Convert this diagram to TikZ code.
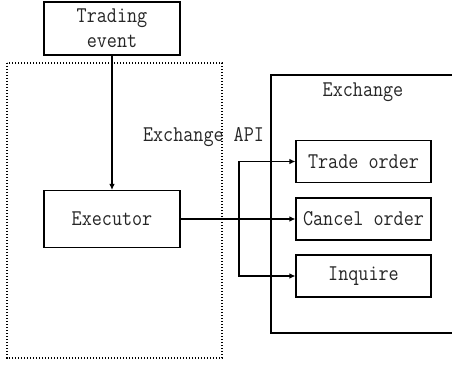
\documentclass[tikz,border=0pt]{standalone}
\usepackage{fontspec}
\usetikzlibrary{arrows.meta}
% narrow, tall monospaced face for all labels
\newfontfamily\labelfont[FakeStretch=0.87]{Latin Modern Mono}
\begin{document}
\begin{tikzpicture}[x=1pt,y=-1pt,
  every node/.style={font=\labelfont\fontsize{22.5}{25}\selectfont, text=black!85},
  box/.style={draw=black, line width=1.1pt, inner sep=0pt, text=black!85},
  conn/.style={line width=1.1pt, -{Latex[length=6pt,width=5.5pt]}},
  plain/.style={line width=1.1pt}]
  \useasboundingbox (0,0) rectangle (452,366);

  % module boundary (dotted)
  \draw[line width=1.3pt, dash pattern=on 1.1pt off 1.9pt] (7,63) rectangle (222,358);

  % exchange frame, open to the right
  \draw[plain] (452,75) -- (271,75) -- (271,333) -- (452,333);
  \node (exch) at (363,92) {Exchange};

  \node[box, minimum width=136pt, minimum height=53pt, align=center] (event) at (112,28.5) {Trading\\event};
  \node[box, minimum width=136pt, minimum height=57pt] (exec) at (112,219) {Executor};

  \node (api) at (203.5,137) {Exchange API};

  \node[box, minimum width=135pt, minimum height=42pt] (trade) at (363.5,161.5) {Trade order};
  \node[box, minimum width=135pt, minimum height=42pt] (cancel) at (363.5,219) {Cancel order};
  \node[box, minimum width=135pt, minimum height=42pt] (inq) at (363.5,276) {Inquire};

  \draw[conn] (event.south) -- (exec.north);
  \draw[conn] (exec.east) -- (cancel.west);
  \coordinate (split) at (239,219);
  \draw[conn] (split) |- (trade.west);
  \draw[conn] (split) |- (inq.west);
\end{tikzpicture}
\end{document}
